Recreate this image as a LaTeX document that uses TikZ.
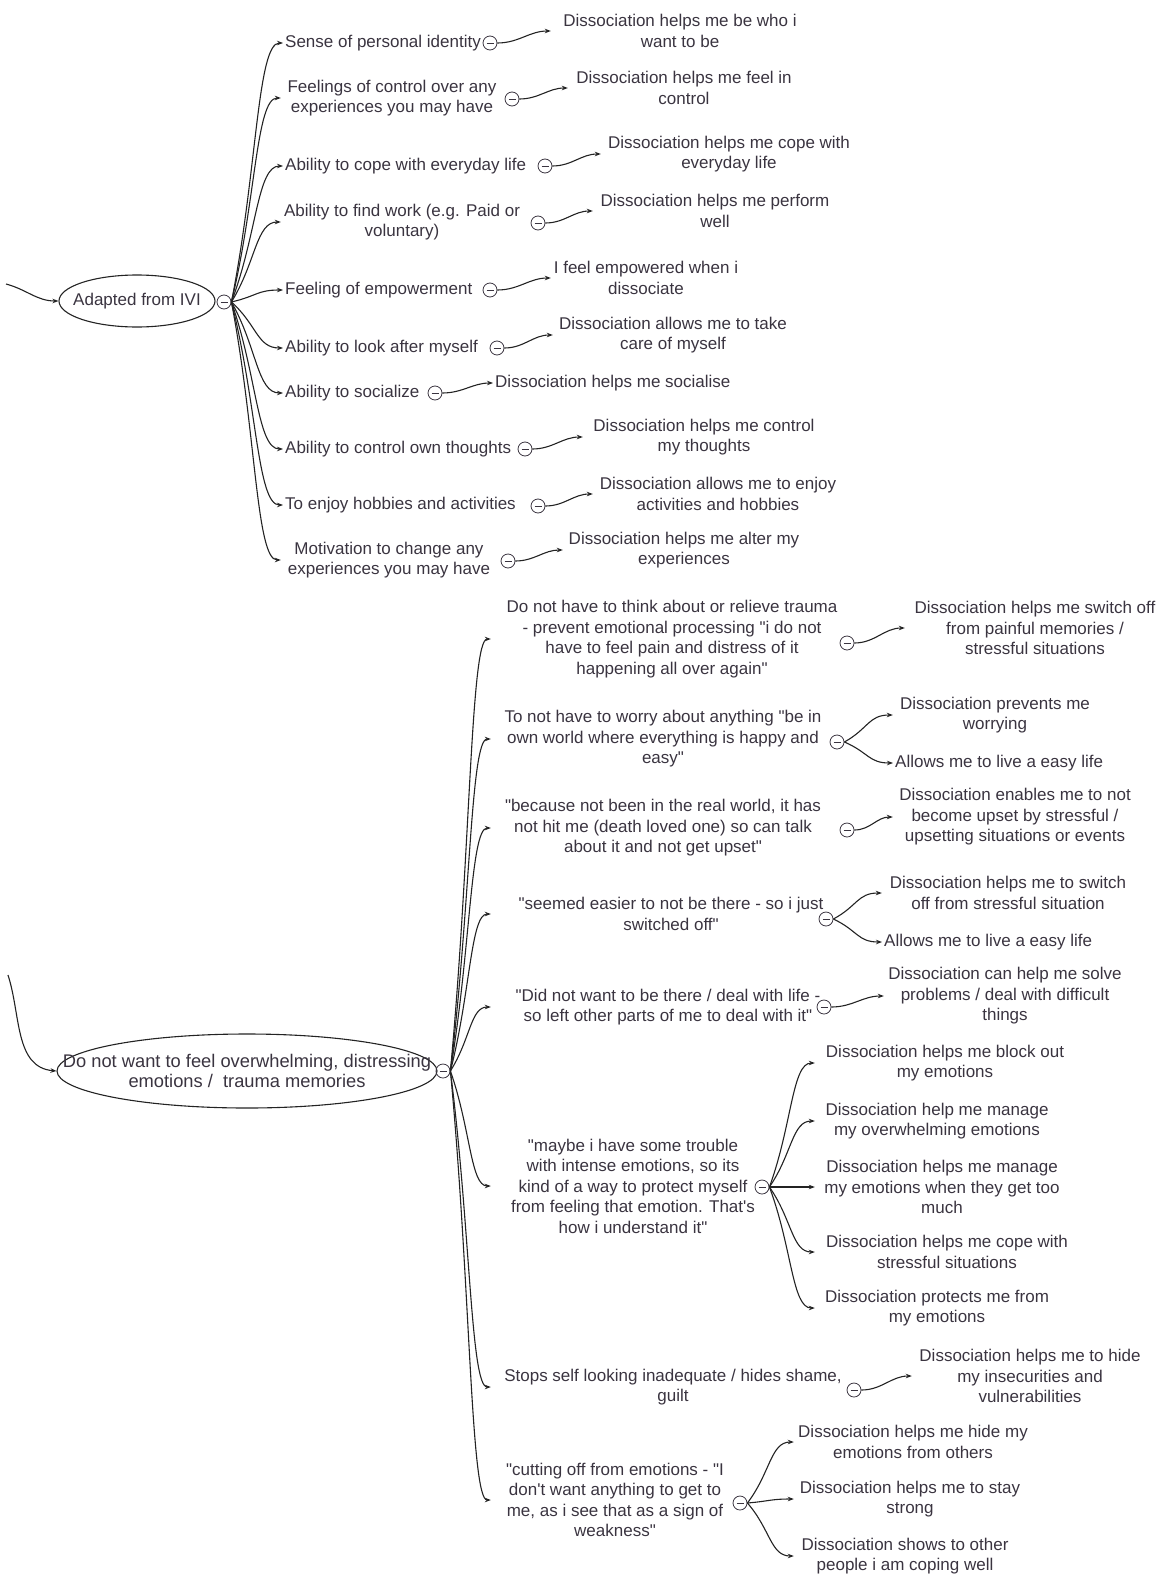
\documentclass[tikz,border=0pt]{standalone}
\usepackage{fontspec}
\setmainfont{Liberation Sans}[Ligatures=TeXOff]
\usetikzlibrary{arrows.meta,shapes.geometric,calc}

\definecolor{ink}{RGB}{58,52,64}
\definecolor{wire}{RGB}{35,35,35}

\tikzset{
  item/.style={font=\fontsize{17}{20.5}\selectfont, text=ink, align=center, inner sep=2pt},
  link/.style={wire, line width=1.1pt, -{Stealth[length=6pt,width=4.5pt]}},
  fold/.style={circle, draw=ink, line width=0.8pt, inner sep=0pt, minimum size=14pt,
    path picture={\draw[ink, line width=0.8pt] ([xshift=-3.5pt]path picture bounding box.center) -- ([xshift=3.5pt]path picture bounding box.center);}},
  bubble/.style={ellipse, draw=wire, line width=1.1pt}
}

\newcommand{\branch}[2]{\draw[link] (#1) .. controls ($(#1)!0.5!(#2)$) and ($(#2)!0.5!(#1|-#2)$) .. (#2);}

\begin{document}
\begin{tikzpicture}[x=1pt,y=-1pt]
    \useasboundingbox (0,0) rectangle (1173,1576);

    \coordinate (in1) at (6,284);
    \coordinate (in2) at (8,975);

    \node[bubble, minimum width=156pt, minimum height=52pt] (r1) at (137,301) {};
    \node[item] (r1txt) at (r1) {Adapted from IVI};
    \node[fold] (fr1) at (224,302) {};

    \node[bubble, minimum width=380pt, minimum height=74pt] (r2) at (247,1071) {};
    \node[item, font=\fontsize{18.3}{20.5}\selectfont] (r2txt) at (r2) {Do not want to feel overwhelming, distressing\\emotions /\ \ trauma memories};
    \node[fold] (fr2) at (443,1071) {};

    \draw[link] (in1) to[out=-15,in=180] (r1.west);
    \draw[link] (in2) to[out=-72,in=175] (r2.west);

    \node[item, anchor=west] (k1) at (283,43) {Sense of personal identity};
    \node[item, minimum width=222pt] (k2) at (392,98) {Feelings of control over any\\experiences you may have};
    \node[item, anchor=west] (k3) at (283,166) {Ability to cope with everyday life};
    \node[item, minimum width=242pt] (k4) at (402,222) {Ability to find work (e.g. Paid or\\voluntary)};
    \node[item, anchor=west] (k5) at (283,290) {Feeling of empowerment};
    \node[item, anchor=west] (k6) at (283,348) {Ability to look after myself};
    \node[item, anchor=west] (k7) at (283,393) {Ability to socialize};
    \node[item, anchor=west] (k8) at (283,449) {Ability to control own thoughts};
    \node[item, anchor=west] (k9) at (283,505) {To enjoy hobbies and activities};
    \node[item, minimum width=216pt] (k10) at (389,560) {Motivation to change any\\experiences you may have};

    \node[fold] (fk1) at (490,43) {};
    \node[fold] (fk2) at (512,99) {};
    \node[fold] (fk3) at (545,166) {};
    \node[fold] (fk4) at (538,223) {};
    \node[fold] (fk5) at (490,290) {};
    \node[fold] (fk6) at (497,348) {};
    \node[fold] (fk7) at (435,393) {};
    \node[fold] (fk8) at (525,449) {};
    \node[fold] (fk9) at (538,506) {};
    \node[fold] (fk10) at (508,561) {};

    \node[item, minimum width=258pt] (t1) at (680,31) {Dissociation helps me be who i\\want to be};
    \node[item, minimum width=232pt] (t2) at (684,88) {Dissociation helps me feel in\\control};
    \node[item, minimum width=256pt] (t3) at (729,154) {Dissociation helps me cope with\\everyday life};
    \node[item, minimum width=244pt] (t4) at (715,211) {Dissociation helps me perform\\well};
    \node[item, minimum width=190pt] (t5) at (646,278) {I feel empowered when i\\dissociate};
    \node[item, minimum width=240pt] (t6) at (673,335) {Dissociation allows me to take\\care of myself};
    \node[item, anchor=west] (t7) at (493,383) {Dissociation helps me socialise};
    \node[item, minimum width=242pt] (t8) at (704,437) {Dissociation helps me control\\my thoughts};
    \node[item, minimum width=250pt] (t9) at (718,494) {Dissociation allows me to enjoy\\activities and hobbies};
    \node[item, minimum width=242pt] (t10) at (684,550) {Dissociation helps me alter my\\experiences};

    \foreach \i in {1,...,10} {
        \branch{fr1.east}{k\i.west}
        \draw[link] (fk\i.east) to[out=0,in=180] (t\i.west);
    }

    \node[item, minimum width=362pt] (c1) at (672,639) {Do not have to think about or relieve trauma\\- prevent emotional processing "i do not\\have to feel pain and distress of it\\happening all over again"};
    \node[item, minimum width=344pt] (c2) at (663,739) {To not have to worry about anything "be in\\own world where everything is happy and\\easy"};
    \node[item, minimum width=344pt] (c3) at (663,828) {"because not been in the real world, it has\\not hit me (death loved one) so can talk\\about it and not get upset"};
    \node[item, minimum width=360pt] (c4) at (671,914) {"seemed easier to not be there - so i just\\switched off"};
    \node[item, minimum width=354pt] (c5) at (668,1007) {"Did not want to be there / deal with life -\\so left other parts of me to deal with it"};
    \node[item, minimum width=284pt] (c6) at (633,1186) {"maybe i have some trouble\\with intense emotions, so its\\kind of a way to protect myself\\from feeling that emotion. That's\\how i understand it"};
    \node[item, minimum width=364pt] (c7) at (673,1387) {Stops self looking inadequate / hides shame,\\guilt};
    \node[item, minimum width=248pt] (c8) at (615,1500) {"cutting off from emotions - "I\\don't want anything to get to\\me, as i see that as a sign of\\weakness"};

    \node[fold] (fc1) at (847,643) {};
    \node[fold] (fc2) at (837,742) {};
    \node[fold] (fc3) at (847,830) {};
    \node[fold] (fc4) at (826,919) {};
    \node[fold] (fc5) at (824,1007) {};
    \node[fold] (fc6) at (762,1187) {};
    \node[fold] (fc7) at (854,1390) {};
    \node[fold] (fc8) at (740,1503) {};

    \foreach \i in {1,...,8} {
        \branch{fr2.east}{c\i.west}
    }

    \node[item, minimum width=260pt] (d1) at (1035,628) {Dissociation helps me switch off\\from painful memories /\\stressful situations};
    \node[item, minimum width=204pt] (d2a) at (995,715) {Dissociation prevents me\\worrying};
    \node[item, anchor=west] (d2b) at (893,763) {Allows me to live a easy life};
    \node[item, minimum width=244pt] (d3) at (1015,817) {Dissociation enables me to not\\become upset by stressful /\\upsetting situations or events};
    \node[item, minimum width=252pt] (d4a) at (1008,893) {Dissociation helps me to switch\\off from stressful situation};
    \node[item, anchor=west] (d4b) at (882,942) {Allows me to live a easy life};
    \node[item, minimum width=242pt] (d5) at (1005,996) {Dissociation can help me solve\\problems / deal with difficult\\things};
    \node[item, minimum width=260pt] (d6a) at (945,1063) {Dissociation helps me block out\\my emotions};
    \node[item, minimum width=244pt] (d6b) at (937,1121) {Dissociation help me manage\\my overwhelming emotions};
    \node[item, minimum width=254pt] (d6c) at (942,1187) {Dissociation helps me manage\\my emotions when they get too\\much};
    \node[item, minimum width=264pt] (d6d) at (947,1252) {Dissociation helps me cope with\\stressful situations};
    \node[item, minimum width=244pt] (d6e) at (937,1308) {Dissociation protects me from\\my emotions};
    \node[item, minimum width=236pt] (d7) at (1030,1376) {Dissociation helps me to hide\\my insecurities and\\vulnerabilities};
    \node[item, minimum width=238pt] (d8a) at (913,1442) {Dissociation helps me hide my\\emotions from others};
    \node[item, minimum width=232pt] (d8b) at (910,1499) {Dissociation helps me to stay\\strong};
    \node[item, minimum width=222pt] (d8c) at (905,1556) {Dissociation shows to other\\people i am coping well};

    \foreach \i in {1,3,5,7} {
        \draw[link] (fc\i.east) to[out=0,in=180] (d\i.west);
    }
    \foreach \j in {a,b} {
        \branch{fc2.east}{d2\j.west}
        \branch{fc4.east}{d4\j.west}
    }
    \foreach \j in {a,b,c,d,e} {
        \branch{fc6.east}{d6\j.west}
    }
    \foreach \j in {a,b,c} {
        \branch{fc8.east}{d8\j.west}
    }
\end{tikzpicture}
\end{document}
